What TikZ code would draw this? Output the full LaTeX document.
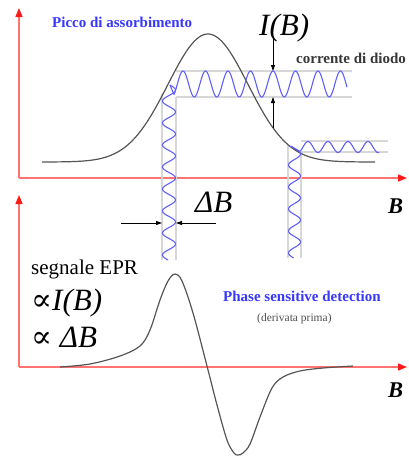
\documentclass[tikz,border=0pt]{standalone}
\usepackage{fontspec}
\setmainfont{Liberation Serif}
\newfontfamily\symfont{DejaVu Serif}
\usetikzlibrary{arrows.meta}
\definecolor{axisred}{RGB}{255,115,115}
\definecolor{tipred}{RGB}{255,25,25}
\definecolor{wave}{RGB}{95,95,250}
\definecolor{bandgray}{RGB}{215,215,215}
\definecolor{curvegray}{RGB}{85,85,85}
\definecolor{textblue}{RGB}{55,55,255}
\definecolor{darktext}{RGB}{55,55,55}
\definecolor{softtext}{RGB}{80,80,80}
\begin{document}
\begin{tikzpicture}[x=1pt,y=-1pt,
  axis/.style={draw=axisred,line width=1.3pt,-{Triangle[color=tipred,length=9pt,width=7pt]}},
  band/.style={draw=bandgray,line width=1.3pt},
  wavy/.style={draw=wave,line width=1.1pt},
  curve/.style={draw=curvegray,line width=1.2pt},
  marker/.style={draw=black,line width=0.8pt,-{Triangle[length=6pt,width=4pt]}},
  lbl/.style={inner sep=0pt,anchor=base west},
  bluehead/.style={lbl,font=\fontsize{15}{15}\selectfont\bfseries,text=textblue},
  big/.style={lbl,font=\fontsize{31}{31}\selectfont},
  blab/.style={lbl,font=\fontsize{22.5}{22.5}\selectfont\bfseries\itshape},
]
\useasboundingbox (0,0) rectangle (408,456);
% axes
\coordinate (o1) at (19,178); \coordinate (y1) at (19,8); \coordinate (x1) at (407,178);
\coordinate (o2) at (19,367); \coordinate (y2) at (19,195); \coordinate (x2) at (407,367);
\draw[axis] (o1) -- (y1);
\draw[axis] (o1) -- (x1);
\draw[axis] (o2) -- (y2);
\draw[axis] (o2) -- (x2);
% gray bands
\draw[band] (176,71) -- (352,71);
\draw[band] (176,97) -- (352,97);
\draw[band] (162,94) -- (162,260);
\draw[band] (176,97) -- (176,260);
\draw[band] (301,141) -- (388,141);
\draw[band] (301,152) -- (388,152);
\draw[band] (288,145) -- (288,258);
\draw[band] (301,152) -- (301,258);
% absorption curve
\draw[curve] plot[domain=42:375,samples=160] (\x,{162-128*exp(-0.5*((\x-208)/40)^2)});
% waves
\draw[wavy] plot[domain=174:347,samples=220] (\x,{84-13*cos(16*(\x-273))});
\draw[wavy] plot[domain=85:260,samples=220] ({169+6.5*cos(16.3636*(\x-222))},\x);
\draw[wavy] (170,85) -- (174,94.5);
\draw[wavy] plot[domain=146:258,samples=160] ({294.5+6*cos(16.3636*(\x-220))},\x);
\draw[wavy] (290.6,146) -- (300,151.4);
\draw[wavy] plot[domain=300:379,samples=120] (\x,{147-5.5*cos(18*(\x-308))});
% derivative curve
\draw[curve] plot[smooth,tension=0.55] coordinates {(60,367) (90,364) (120,356) (140,346) (150,330) (160,300) (168,281) (175,274) (182,281) (193,313) (207,366) (217,405) (227,440) (234,453) (238,455) (243,453) (250,444) (260,417) (272,388) (283,377) (300,371) (323,368) (353,366)};
% marker arrows
\coordinate (ibtop) at (273,37); \coordinate (ibhi) at (273,71);
\coordinate (ibcurve) at (273,128); \coordinate (iblow) at (273,97);
\draw[marker] (ibtop) -- (ibhi);
\draw[marker] (ibcurve) -- (iblow);
\coordinate (dbl) at (121,223); \coordinate (dblt) at (162,223);
\coordinate (dbr) at (216,223); \coordinate (dbrt) at (176,223);
\draw[marker] (dbl) -- (dblt);
\draw[marker] (dbr) -- (dbrt);
% labels
\node[bluehead] (picco) at (52,27) {Picco di assorbimento};
\node[big,font=\fontsize{31}{31}\selectfont\itshape] (ib) at (259,35) {I(B)};
\node[lbl,font=\fontsize{15}{15}\selectfont\bfseries,text=darktext] (diodo) at (296,63) {corrente di diodo};
\node[big,font=\fontsize{31}{31}\selectfont\itshape] (db) at (195,212) {ΔB};
\node[blab] (b1) at (388,213) {B};
\node[lbl,font=\fontsize{21}{21}\selectfont] (epr) at (31,274) {segnale EPR};
\node[big] (prop1) at (31,310) {{\symfont ∝}\textit{I(B)}};
\node[big] (prop2) at (31,347) {{\symfont ∝} \textit{ΔB}};
\node[bluehead] (psd) at (223,301) {Phase sensitive detection};
\node[lbl,font=\fontsize{11.5}{11.5}\selectfont,text=softtext] (deriv) at (257,321) {(derivata prima)};
\node[blab] (b2) at (388,397) {B};
\end{tikzpicture}
\end{document}
